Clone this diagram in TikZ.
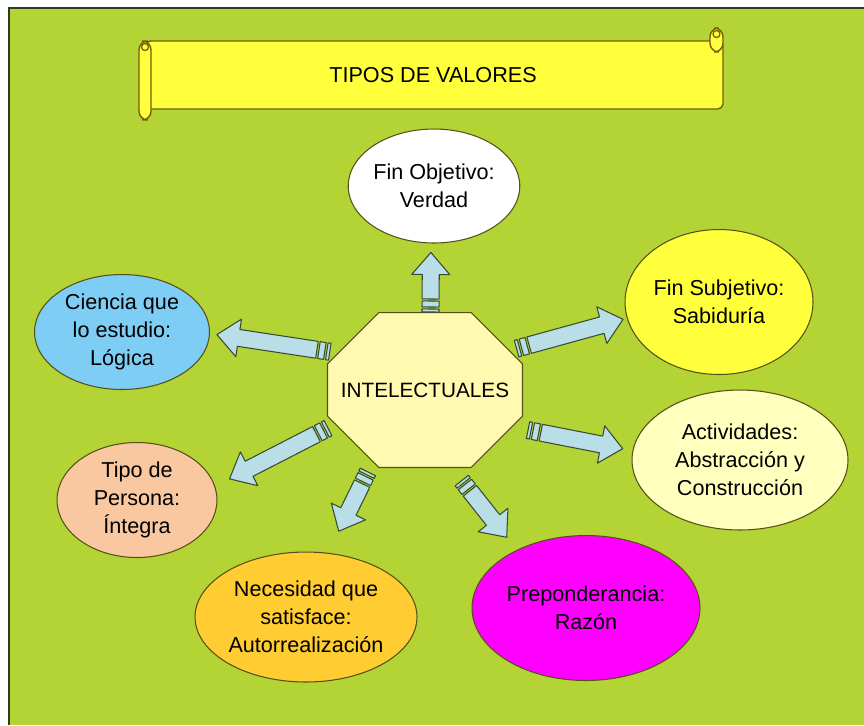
\documentclass[tikz,border=0pt]{standalone}
\usepackage{fontspec}
\setmainfont{Liberation Sans}
\usetikzlibrary{shapes.geometric, shapes.misc, calc}
\definecolor{verdefondo}{RGB}{180, 211, 52}
\definecolor{bordefondo}{RGB}{45, 60, 30}
\definecolor{amarillo}{RGB}{255, 255, 60}
\definecolor{amarilloclaro}{RGB}{255, 255, 190}
\definecolor{octclaro}{RGB}{255, 250, 175}
\definecolor{celeste}{RGB}{125, 205, 245}
\definecolor{melocoton}{RGB}{250, 200, 160}
\definecolor{dorado}{RGB}{255, 205, 50}
\definecolor{fucsia}{RGB}{255, 0, 255}
\definecolor{azulflecha}{RGB}{185, 222, 232}
\definecolor{bordeflecha}{RGB}{55, 75, 50}
\definecolor{bordeoliva}{RGB}{85, 80, 25}
\definecolor{bordepergamino}{RGB}{115, 95, 10}

% flecha con franjas: desde, hasta, hueco inicial, hueco final (px)
\newcommand{\flechafranja}[4]{%
  \path (#1) coordinate (fa) (#2) coordinate (fb);
  \pgfmathanglebetweenpoints{\pgfpointanchor{fa}{center}}{\pgfpointanchor{fb}{center}}%
  \let\fang\pgfmathresult
  \pgfpointdiff{\pgfpointanchor{fa}{center}}{\pgfpointanchor{fb}{center}}%
  \pgfgetlastxy{\fdx}{\fdy}%
  \pgfmathsetmacro{\flen}{veclen(\fdx,\fdy)/0.569055}%
  \pgfmathsetmacro{\fs}{#3}%
  \pgfmathsetmacro{\fe}{\flen-#4}%
  \begin{scope}[shift={(fa)}, rotate=\fang, x=0.02cm, y=0.02cm]
    \draw[flecha] (\fs,-8.5) rectangle (\fs+3,8.5);
    \draw[flecha] (\fs+5,-8.5) rectangle (\fs+11,8.5);
    \draw[flecha] (\fs+13,-8.5) -- (\fe-22,-8.5) -- (\fe-22,-19) -- (\fe,0)
      -- (\fe-22,19) -- (\fe-22,8.5) -- (\fs+13,8.5) -- cycle;
  \end{scope}}

\begin{document}
\begin{tikzpicture}[x=0.02cm, y=-0.02cm,
  burbuja/.style={ellipse, draw=bordeoliva, line width=0.6pt, inner sep=0pt,
    align=center, font=\fontsize{12.3}{16}\selectfont},
  flecha/.style={draw=bordeflecha, fill=azulflecha, line width=0.6pt, line join=round},
  pergamino/.style={draw=bordepergamino, fill=amarillo, line width=0.8pt}]
  \useasboundingbox (0,0) rectangle (864,725);

  % ===== Fondo =====
  \fill[verdefondo] (9,8) rectangle (864,725);
  \draw[bordefondo, line width=0.9pt] (9,725) -- (9,8) -- (864,8);

  % ===== Pergamino del título =====
  \draw[pergamino, rounded corners=3pt] (145,41) rectangle (723,109);
  \draw[pergamino, rounded corners=5pt] (710,28) rectangle (723,52);
  \draw[bordepergamino, line width=0.7pt] (716.5,34) circle (2pt);
  \draw[pergamino, rounded corners=5pt] (139,41) rectangle (151,120);
  \draw[bordepergamino, line width=0.7pt] (145,47) circle (2pt);
  \node[font=\fontsize{12.3}{15}\selectfont] (titulo) at (433,75) {TIPOS DE VALORES};

  % ===== Centro =====
  \node[chamfered rectangle, chamfered rectangle xsep=0.72cm, chamfered rectangle ysep=0.88cm,
    draw=bordeoliva, fill=octclaro, line width=0.6pt, minimum width=3.9cm, minimum height=3.1cm,
    inner sep=0pt, font=\fontsize{11.8}{14}\selectfont] (oct) at (425,390) {INTELECTUALES};

  % ===== Valores =====
  \node[burbuja, fill=white, minimum width=3.24cm, minimum height=2.28cm]
    (verdad) at (434,186) {Fin Objetivo:\\Verdad};
  \node[burbuja, fill=celeste, minimum width=3.5cm, minimum height=2.3cm]
    (ciencia) at (122,332) {Ciencia que\\lo estudio:\\Lógica};
  \node[burbuja, fill=amarillo, minimum width=3.76cm, minimum height=2.9cm]
    (sabiduria) at (719,302) {Fin Subjetivo:\\Sabiduría};
  \node[burbuja, fill=amarilloclaro, minimum width=4.32cm, minimum height=2.8cm]
    (actividades) at (740,460) {Actividades:\\Abstracción y\\Construcción};
  \node[burbuja, fill=melocoton, minimum width=3.2cm, minimum height=2.3cm]
    (persona) at (137,500) {Tipo de\\Persona:\\Íntegra};
  \node[burbuja, fill=dorado, minimum width=4.44cm, minimum height=2.6cm]
    (necesidad) at (306,617) {Necesidad que\\satisface:\\Autorrealización};
  \node[burbuja, fill=fucsia, minimum width=4.56cm, minimum height=2.9cm]
    (razon) at (586,608) {Preponderancia:\\Razón};

  % ===== Flechas =====
  \foreach \desde/\hasta/\ga/\gb in {oct.86/verdad.267/0/9, oct.157/ciencia.359/8/7,
      oct.25/sabiduria.190/7/4, oct.337/actividades.175/16/10, oct.201/persona.10/8/16,
      oct.234/necesidad.71/11/24, oct.289/razon.140/16/16}
    {\flechafranja{\desde}{\hasta}{\ga}{\gb}}
\end{tikzpicture}
\end{document}
